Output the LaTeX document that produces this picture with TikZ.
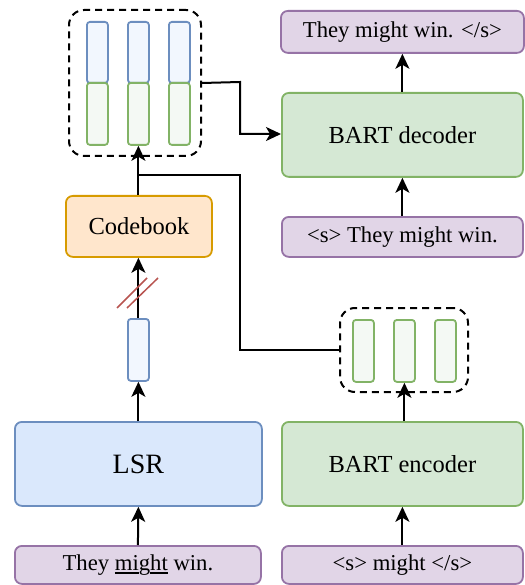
\documentclass[tikz,border=0pt]{standalone}
\usepackage{fontspec}
\setmainfont{Liberation Serif}
\usetikzlibrary{arrows.meta}
\definecolor{purpleF}{HTML}{E1D5E7}\definecolor{purpleD}{HTML}{9673A6}
\definecolor{greenF}{HTML}{D5E8D4}\definecolor{greenD}{HTML}{82B366}
\definecolor{blueF}{HTML}{DAE8FC}\definecolor{blueD}{HTML}{6C8EBF}
\definecolor{orangeF}{HTML}{FFE6CC}\definecolor{orangeD}{HTML}{D79B00}
\definecolor{redD}{HTML}{B85450}
% thick underline that leaves room for descenders
\newcommand\thickul[1]{\setbox0\hbox{#1}\rlap{\rule[-3.2pt]{\wd0}{2pt}}\box0\relax}
\tikzset{
  box/.style={draw, line width=1.8pt, rounded corners=7pt, inner sep=0pt, anchor=north west},
  inbox/.style={box, fill=purpleF, draw=purpleD},
  encbox/.style={box, fill=greenF, draw=greenD},
  blubox/.style={box, fill=blueF, draw=blueD},
  orbox/.style={box, fill=orangeF, draw=orangeD},
  bar/.style={draw, line width=1.8pt, rounded corners=3pt, fill=white, anchor=north west, inner sep=0pt},
  gbar/.style={bar, draw=greenD, fill=greenF!25},
  bbar/.style={bar, draw=blueD, fill=blueF!35},
  group/.style={draw, dash pattern=on 7pt off 5pt, line width=2pt, rounded corners=15pt, anchor=north west, inner sep=0pt},
  arr/.style={line width=2pt, -{Stealth[length=15pt,width=14pt,inset=4pt]}},
  ln/.style={line width=2pt},
  lbl/.style={font=\fontsize{24.5}{28}\selectfont},
  inlbl/.style={font=\fontsize{22.7}{26}\selectfont},
}
\begin{document}
\begin{tikzpicture}[x=1pt,y=-1pt]
\useasboundingbox (0,0) rectangle (524,585);
% left column
\node[inbox, minimum width=246pt, minimum height=38pt] (in1) at (14,545) {};
\node[inlbl] at (in1.center) {They \thickul{mi}g\thickul{ht} win.};
\node[blubox, minimum width=247pt, minimum height=84pt] (lsr) at (14,421) {};
\node[font=\fontsize{28}{32}\selectfont] at (lsr.center) {LSR};
\node[bbar, minimum width=21pt, minimum height=62pt] (z) at (127,318) {};
\node[orbox, minimum width=146pt, minimum height=61pt] (cb) at (65,195) {};
\node[lbl] at (cb.center) {Codebook};
% quantised codes
\node[group, minimum width=132pt, minimum height=146pt] (q) at (68,9) {};
\foreach \x/\n in {86/a,127/b,168/c}{
  \node[bbar, minimum width=21pt, minimum height=61pt] (q\n top) at (\x,21) {};
  \node[gbar, minimum width=21pt, minimum height=62pt] (q\n) at (\x,82) {};
}
% right column
\node[inbox, minimum width=241pt, minimum height=38pt] (in2) at (281,545) {};
\node[inlbl] at (in2.center) {<s> might </s>};
\node[encbox, minimum width=241pt, minimum height=84pt] (enc) at (281,421) {};
\node[lbl] at (enc.center) {BART encoder};
\node[group, minimum width=128pt, minimum height=84pt] (h) at (339,307) {};
\foreach \x/\n in {352/a,393/b,434/c}{
  \node[gbar, minimum width=21pt, minimum height=62pt] (h\n) at (\x,319) {};
}
\node[inbox, minimum width=241pt, minimum height=40pt] (din) at (281,216) {};
\node[inlbl] at (din.center) {<s> They might win.};
\node[encbox, minimum width=241pt, minimum height=84pt] (dec) at (281,92) {};
\node[lbl] at (dec.center) {BART decoder};
\node[inbox, minimum width=243pt, minimum height=42pt] (out) at (280,10) {};
\node[inlbl] at (out.center) {They might win. </s>};
% connectors
\draw[arr] (in1.north) -- (lsr.south);
\draw[arr] (lsr.north -| z.south) -- (z.south);
\draw[arr] (z.north) -- (z.north |- cb.south);
\draw[arr] (cb.north -| qb.south) -- (qb.south);
\draw[arr] (in2.north) -- (enc.south);
\draw[arr] (enc.north -| hb.south) -- (hb.south);
\draw[arr] (din.north) -- (dec.south);
\draw[arr] (dec.north) -- (out.south);
\coordinate (j) at (137,175);
\draw[ln] (h.west) -- (240,350) -- (240,175) -- (j);
\draw[arr] (q.east) -- (240,82) -- (240,134) -- (dec.west |- 0,134);
% stop-gradient marks
\draw[redD, line width=1.5pt] (117,308) -- (147,278);
\draw[redD, line width=1.5pt] (127,308) -- (158,278);
\end{tikzpicture}
\end{document}
